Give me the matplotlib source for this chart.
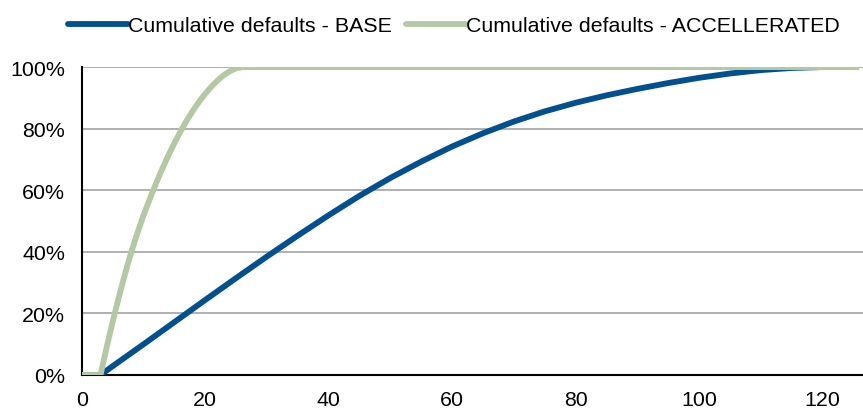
import numpy as np
import matplotlib.pyplot as plt
from matplotlib.ticker import PercentFormatter

plt.rcParams['font.family'] = ['Liberation Sans', 'DejaVu Sans']

# Base scenario, read every 5 months
base_month = [0, 3, 5, 10, 15, 20, 25, 30, 35, 40, 45, 50, 55, 60, 65, 70, 75, 80,
              85, 90, 95, 100, 105, 110, 115, 120, 125]
base_cum = [0, 0, 2.9, 10.0, 17.2, 24.4, 31.5, 38.5, 45.3, 51.9, 58.2, 64.0, 69.3,
            74.2, 78.5, 82.3, 85.6, 88.4, 90.8, 92.9, 94.8, 96.5, 97.9, 99.0, 99.7,
            100, 100]

# Accelerated scenario, monthly through the ramp
acc_month = [0, 1, 2, 3, 4, 5, 6, 7, 8, 9, 10, 11, 12, 13, 14, 15, 16, 17, 18, 19,
             20, 21, 22, 23, 24, 25, 26, 60, 100, 126]
acc_cum = [0, 0, 0, 0, 9.0, 17.5, 25.5, 33.0, 40.0, 46.2, 52.0, 57.2, 62.2, 66.9,
           71.3, 75.4, 79.2, 82.7, 85.9, 88.8, 91.4, 93.7, 95.7, 97.4, 98.7, 99.6,
           100, 100, 100, 100]

fig = plt.figure(figsize=(8.63, 4.10), dpi=100)
ax = fig.add_axes([0.095, 0.083, 0.905, 0.751])

ax.plot(base_month, base_cum, color='#02508F', lw=4.2,
        solid_capstyle='butt', label='Cumulative defaults - BASE', zorder=3)
ax.plot(acc_month, acc_cum, color='#B3C8A3', lw=4.2,
        solid_capstyle='butt', label='Cumulative defaults - ACCELLERATED', zorder=4)

ax.set_xlim(0, 126.6)
ax.set_ylim(0, 100)
ax.set_xticks(np.arange(0, 121, 20))
ax.set_yticks(np.arange(0, 101, 20))
ax.yaxis.set_major_formatter(PercentFormatter(decimals=0))
ax.tick_params(length=0, labelsize=15.4)
ax.tick_params(axis='y', pad=12)
ax.tick_params(axis='x', pad=11)

ax.grid(axis='y', color='#A3A3A3', lw=1.2)
ax.set_axisbelow(True)
for s in ['top', 'right']:
    ax.spines[s].set_visible(False)
for s in ['left', 'bottom']:
    ax.spines[s].set_color('black')
    ax.spines[s].set_linewidth(1.5)

leg = fig.legend(loc='center', bbox_to_anchor=(0.526, 0.935), ncol=2, frameon=False,
                 fontsize=15.4, handlelength=2.8, handletextpad=0.0,
                 columnspacing=0.7)
for h in leg.legend_handles:
    h.set_solid_capstyle('round')

fig.savefig('out.png', dpi=100)
